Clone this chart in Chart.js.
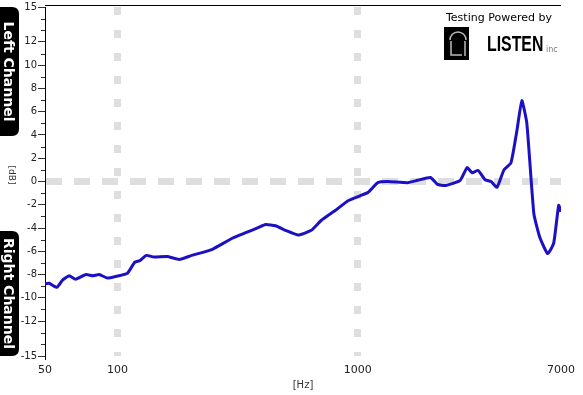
<!DOCTYPE html>
<html>
<head>
<meta charset="utf-8">
<script src="https://cdn.jsdelivr.net/npm/chart.js@4.4.1/dist/chart.umd.min.js"></script>
<style>
html, body { margin: 0; padding: 0; background: #fff; }
#wrap { width: 583px; height: 395px; }
</style>
</head>
<body>
<div id="wrap"><canvas id="fr"></canvas></div>
<script>
// frequency response
const freqs = [50, 52, 56, 59, 63, 67, 74, 79, 84, 91, 99, 110, 118, 124, 132, 142, 161, 181, 204,
    247, 299, 342, 387, 413, 455, 500, 566, 640, 704, 805, 911, 1030, 1101, 1211, 1332, 1611, 1772,
    2005, 2144, 2313, 2666, 2849, 2989, 3167, 3384, 3581, 3794, 4054, 4334, 4591, 4811, 5047, 5396,
    5712, 6162, 6527, 6845, 7000];
const levels = [-8.8, -8.75, -9.1, -8.5, -8.1, -8.4, -8.0, -8.1, -8.0, -8.3, -8.15, -7.9, -6.95, -6.8,
    -6.35, -6.5, -6.45, -6.7, -6.35, -5.85, -4.9, -4.4, -3.95, -3.7, -3.8, -4.2, -4.6, -4.2, -3.35,
    -2.5, -1.65, -1.2, -0.95, -0.1, 0.0, -0.1, 0.1, 0.35, -0.25, -0.35, 0.1, 1.2, 0.75, 0.95, 0.15,
    0.0, -0.5, 1.0, 1.6, 4.4, 6.95, 5.0, -2.75, -4.8, -6.2, -5.3, -2.05, -2.6];
const yTicks = [15, 12, 10, 8, 6, 4, 2, 0, -2, -4, -6, -8, -10, -12, -15];
const xTicks = [50, 100, 1000, 7000];
const xGridAt = [100, 1000];
const yGridAt = [0];

const points = freqs.map((f, i) => ({ x: f, y: levels[i] }));

function tab(ctx, y0, y1, label) {
    ctx.save();
    ctx.fillStyle = "#000";
    ctx.beginPath();
    ctx.moveTo(0, y0);
    ctx.lineTo(12, y0);
    ctx.quadraticCurveTo(19, y0, 19, y0 + 7);
    ctx.lineTo(19, y1 - 7);
    ctx.quadraticCurveTo(19, y1, 12, y1);
    ctx.lineTo(0, y1);
    ctx.closePath();
    ctx.fill();
    ctx.translate(9, (y0 + y1) / 2);
    ctx.rotate(Math.PI / 2);
    ctx.fillStyle = "#fff";
    ctx.font = "bold 14px 'DejaVu Sans'";
    ctx.textAlign = "center";
    ctx.textBaseline = "middle";
    ctx.fillText(label, 0, 1, y1 - y0 - 8);
    ctx.restore();
}

const decor = {
    id: "decor",
    afterDraw(chart) {
        const ctx = chart.ctx;
        const a = chart.chartArea;
        const y = chart.scales.y;
        ctx.save();
        // top border
        ctx.strokeStyle = "#000";
        ctx.lineWidth = 1;
        ctx.beginPath();
        ctx.moveTo(a.left, 5.5);
        ctx.lineTo(a.right, 5.5);
        ctx.stroke();
        // minor ticks
        ctx.strokeStyle = "#333";
        for (let v = -15; v <= 15; v++) {
            if (yTicks.includes(v)) continue;
            const py = Math.round(y.getPixelForValue(v)) + 0.5;
            ctx.beginPath();
            ctx.moveTo(a.left - 4, py);
            ctx.lineTo(a.left, py);
            ctx.stroke();
        }
        ctx.restore();

        tab(ctx, 7, 136, "Left Channel");
        tab(ctx, 231, 356, "Right Channel");

        ctx.save();
        ctx.translate(11, 175);
        ctx.rotate(Math.PI / 2);
        ctx.fillStyle = "#333";
        ctx.font = "9px 'DejaVu Sans'";
        ctx.textAlign = "center";
        ctx.textBaseline = "middle";
        ctx.fillText("[dB]", 0, 0);
        ctx.restore();

        // logo
        ctx.save();
        ctx.fillStyle = "#000";
        ctx.font = "11px 'DejaVu Sans'";
        ctx.textBaseline = "middle";
        ctx.fillText("Testing Powered by", 446, 18);
        ctx.fillRect(444, 27, 25, 33);
        ctx.strokeStyle = "#bbb";
        ctx.lineWidth = 1.5;
        ctx.beginPath();
        ctx.arc(458, 40, 8, Math.PI, 0);
        ctx.stroke();
        ctx.beginPath();
        ctx.moveTo(451, 41); ctx.lineTo(451, 55); ctx.lineTo(462, 55);
        ctx.moveTo(465, 41); ctx.lineTo(465, 56);
        ctx.stroke();
        ctx.save();
        ctx.translate(487, 45);
        ctx.scale(0.72, 1);
        ctx.font = "bold 22px 'Liberation Sans'";
        ctx.fillText("LISTEN", 0, 0);
        ctx.restore();
        ctx.fillStyle = "#777";
        ctx.font = "8px 'DejaVu Sans'";
        ctx.fillText("inc", 546, 50);
        ctx.restore();
    }
};

new Chart(document.getElementById("fr"), {
    type: "line",
    data: {
        datasets: [{
            data: points,
            borderColor: "#1c10c4",
            borderWidth: 3,
            pointRadius: 0,
            tension: 0.15,
            fill: false
        }]
    },
    options: {
        responsive: true,
        maintainAspectRatio: false,
        animation: false,
        layout: { padding: { left: 0, right: 17, top: 6, bottom: 0 } },
        plugins: { legend: { display: false }, tooltip: { enabled: false } },
        scales: {
            x: {
                type: "logarithmic",
                min: 50,
                max: 7000,
                afterBuildTicks: s => { s.ticks = xTicks.map(v => ({ value: v })); },
                afterFit: s => { s.height = 39; },
                border: { display: false, dash: [8, 15] },
                grid: {
                    drawTicks: false,
                    lineWidth: 7,
                    color: c => xGridAt.includes(c.tick && c.tick.value) ? "#dedede" : "rgba(0,0,0,0)"
                },
                ticks: {
                    color: "#222",
                    font: { family: "DejaVu Sans", size: 11 },
                    maxRotation: 0,
                    padding: 8,
                    callback: v => String(v)
                },
                title: {
                    display: true,
                    text: "[Hz]",
                    color: "#333",
                    font: { family: "DejaVu Sans", size: 10 },
                    padding: { top: 0, bottom: 4 }
                }
            },
            y: {
                min: -15,
                max: 15,
                afterBuildTicks: s => { s.ticks = yTicks.map(v => ({ value: v })); },
                afterFit: s => { s.width = 45; },
                border: { display: true, color: "#000", width: 1, dash: [16, 12] },
                grid: {
                    tickLength: 7,
                    tickColor: "#333",
                    tickWidth: 1,
                    tickBorderDash: [],
                    lineWidth: 7,
                    color: c => yGridAt.includes(c.tick && c.tick.value) ? "#dedede" : "rgba(0,0,0,0)"
                },
                ticks: {
                    color: "#222",
                    font: { family: "DejaVu Sans", size: 10 },
                    padding: 1
                }
            }
        }
    },
    plugins: [decor]
});
</script>
</body>
</html>
